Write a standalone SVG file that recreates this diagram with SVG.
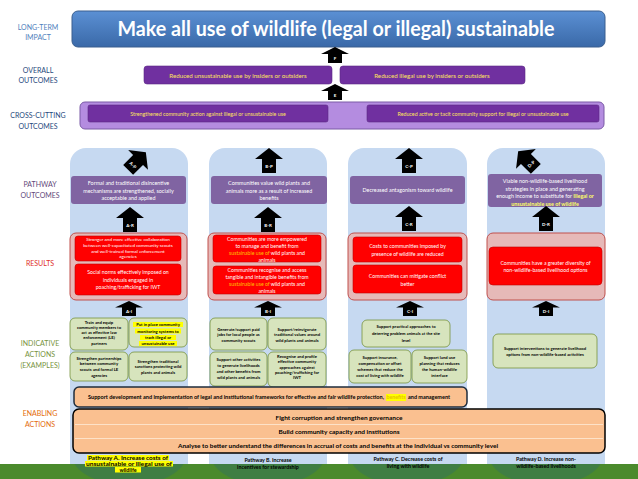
<svg xmlns="http://www.w3.org/2000/svg" width="638" height="479" viewBox="0 0 638 479">
<defs>
<linearGradient id="gTitle" x1="0" y1="0" x2="0" y2="1">
<stop offset="0" stop-color="#5b90d4"/><stop offset="1" stop-color="#3a69a8"/>
</linearGradient>
<path id="arr" d="M0,0 L14,11 L7,11 L7,25 L-7,25 L-7,11 L-14,11 Z"/>
<clipPath id="band"><rect x="0" y="464" width="638" height="15"/></clipPath>
</defs>
<style>
text{font-family:Lato,"Open Sans","Liberation Sans",sans-serif}
.lbl{font-size:7px;text-anchor:middle}
.col{fill:#c6d9f1}
.po{fill:#8064a2}
.pot{fill:#fff;font-size:5.4px;text-anchor:middle}
.rc{fill:#e6b9b8;stroke:#c0504d;stroke-width:1}
.rb{fill:#ff0000;stroke:#c00000;stroke-width:.6}
.rt{fill:#fff;font-size:5.2px;text-anchor:middle}
.rs{fill:#fff;font-size:4.6px;text-anchor:middle}
.ga{fill:#d7e4bd;stroke:#76923c;stroke-width:.8}
.gt{fill:#000;font-size:4.2px;font-weight:700;text-anchor:middle}
.ar{fill:#000}
.at{fill:#fff;font-size:4.5px;font-weight:700;text-anchor:middle}
.pu{fill:#7030a0;stroke:#5c2a85;stroke-width:.6}
.yt{fill:#ffe45c;text-anchor:middle}
.en{fill:#fac090}
.et{fill:#000;font-size:5.3px;font-weight:700;text-anchor:middle}
.pw{fill:#000;font-size:5.3px;font-weight:700;text-anchor:middle}
.or{fill:#ffc000}
.yl{fill:#ffff66;font-weight:700}
.hl{fill:#ffff00}
</style>
<rect width="638" height="479" fill="#fff"/>

<g id="row-labels">
<text class="lbl" x="38" y="30" fill="#4f81bd"><tspan x="38">LONG-TERM</tspan><tspan x="38" dy="10">IMPACT</tspan></text>
<text class="lbl" x="38" y="73" fill="#1f497d"><tspan x="38">OVERALL</tspan><tspan x="38" dy="10">OUTCOMES</tspan></text>
<text class="lbl" x="38" y="118" fill="#1f497d"><tspan x="38">CROSS-CUTTING</tspan><tspan x="38" dy="11">OUTCOMES</tspan></text>
<text class="lbl" x="40" y="187" fill="#5f497a"><tspan x="40">PATHWAY</tspan><tspan x="40" dy="11">OUTCOMES</tspan></text>
<text class="lbl" x="40" y="266" fill="#e0302a">RESULTS</text>
<text class="lbl" x="40" y="346" fill="#77933c"><tspan x="40">INDICATIVE</tspan><tspan x="40" dy="11">ACTIONS</tspan><tspan x="40" dy="11">(EXAMPLES)</tspan></text>
<text class="lbl" x="40" y="416" fill="#e46c0a"><tspan x="40">ENABLING</tspan><tspan x="40" dy="11">ACTIONS</tspan></text>
</g>

<g id="columns">
<rect class="col" x="70" y="148" width="118" height="331" rx="16"/>
<rect class="col" x="209" y="148" width="118" height="331" rx="16"/>
<rect class="col" x="348" y="148" width="119" height="331" rx="16"/>
<rect class="col" x="487" y="148" width="118" height="331" rx="16"/>
</g>

<g id="green-band">
<rect x="0" y="464" width="638" height="15" fill="#4b8a2c"/>
<g clip-path="url(#band)" fill="#2a6870" opacity="0.35">
<ellipse cx="129" cy="455" rx="57" ry="30"/>
<ellipse cx="268" cy="455" rx="57" ry="30"/>
<ellipse cx="407" cy="455" rx="57" ry="30"/>
<ellipse cx="546" cy="455" rx="57" ry="30"/>
</g>
</g>

<g id="impact">
<rect x="72" y="11" width="533" height="36" rx="6" fill="url(#gTitle)" stroke="#3a5f8f" stroke-width="1"/>
<text x="336" y="36" fill="#fff" font-size="21" font-weight="700" text-anchor="middle" textLength="437" lengthAdjust="spacingAndGlyphs">Make all use of wildlife (legal or illegal) sustainable</text>
</g>

<g id="overall-unsustainable">
<rect class="pu" x="144" y="66" width="188" height="18" rx="3"/>
<text class="yt" x="238" y="77.5" font-size="6.2">Reduced unsustainable use by insiders or outsiders</text>
</g>
<g id="overall-illegal">
<rect class="pu" x="340" y="66" width="185" height="18" rx="3"/>
<text class="yt" x="432" y="77.5" font-size="6.2">Reduced illegal use by insiders or outsiders</text>
</g>

<g id="cross-cutting">
<rect x="80" y="102" width="524" height="27" rx="5" fill="#b48ce0" stroke="#7b5aa6" stroke-width="1"/>
<g id="cc-action">
<rect class="pu" x="88" y="105" width="240" height="17" rx="2"/>
<text class="yt" x="208" y="115.5" font-size="5.3">Strengthened community action against illegal or unsustainable use</text>
</g>
<g id="cc-support">
<rect class="pu" x="367" y="105" width="232" height="17" rx="2"/>
<text class="yt" x="483" y="115.5" font-size="5.3">Reduced active or tacit community support for illegal or unsustainable use</text>
</g>
</g>

<g id="outcome-A">
<rect class="po" x="71" y="176" width="115" height="28" rx="3"/>
<text class="pot"><tspan x="128.5" y="185">Formal and traditional disincentive</tspan><tspan x="128.5" y="192.5">mechanisms are strengthened, socially</tspan><tspan x="128.5" y="200">acceptable and applied</tspan></text>
</g>
<g id="outcome-B">
<rect class="po" x="211" y="176" width="116" height="28" rx="3"/>
<text class="pot"><tspan x="269" y="185">Communities value wild plants and</tspan><tspan x="269" y="192.5">animals more as a result of increased</tspan><tspan x="269" y="200">benefits</tspan></text>
</g>
<g id="outcome-C">
<rect class="po" x="350" y="176" width="115" height="28" rx="3"/>
<text class="pot" x="407.5" y="191.5">Decreased antagonism toward wildlife</text>
</g>
<g id="outcome-D">
<rect class="po" x="488" y="174" width="114" height="33" rx="3"/>
<text class="pot" font-size="5.2"><tspan x="545" y="183">Viable non-wildlife-based livelihood</tspan><tspan x="545" y="190.5">strategies in place and generating</tspan><tspan x="545" y="198">enough income to substitute for <tspan class="yl">Illegal or</tspan></tspan><tspan x="545" y="205.5" class="yl">unsustainable use of wildlife</tspan></text>
</g>

<g id="results-A">
<rect class="rc" x="70" y="233" width="117" height="67" rx="6"/>
<rect class="rb" x="75" y="236" width="106" height="25" rx="3"/>
<text class="rs"><tspan x="128" y="241">Stronger and more effective collaboration</tspan><tspan x="128" y="246.8">between well-capacitated community scouts</tspan><tspan x="128" y="252.6">and well-trained formal enforcement</tspan><tspan x="128" y="258.4">agencies</tspan></text>
<rect class="rb" x="75" y="264" width="106" height="31" rx="3"/>
<text class="rt" font-size="5.6"><tspan x="128" y="274">Social norms effectively imposed on</tspan><tspan x="128" y="281.5">individuals engaged in</tspan><tspan x="128" y="289">poaching/trafficking for IWT</tspan></text>
</g>
<g id="results-B">
<rect class="rc" x="208" y="233" width="118" height="67" rx="6"/>
<rect class="rb" x="213" y="235" width="108" height="27" rx="3"/>
<text class="rt"><tspan x="267" y="241">Communities are more empowered</tspan><tspan x="267" y="248">to manage and benefit from</tspan><tspan x="267" y="255"><tspan class="or">sustainable use of</tspan> wild plants and</tspan><tspan x="267" y="262">animals</tspan></text>
<rect class="rb" x="213" y="266" width="108" height="28" rx="3"/>
<text class="rt"><tspan x="267" y="272">Communities recognise and access</tspan><tspan x="267" y="279">tangible and intangible benefits from</tspan><tspan x="267" y="286"><tspan class="or">sustainable use of</tspan> wild plants and</tspan><tspan x="267" y="293">animals</tspan></text>
</g>
<g id="results-C">
<rect class="rc" x="348" y="233" width="119" height="67" rx="6"/>
<rect class="rb" x="353" y="237" width="109" height="25" rx="3"/>
<text class="rt"><tspan x="407.5" y="248">Costs to communities imposed by</tspan><tspan x="407.5" y="256">presence of wildlife are reduced</tspan></text>
<rect class="rb" x="353" y="265" width="109" height="28" rx="3"/>
<text class="rt"><tspan x="407.5" y="278">Communities can mitigate conflict</tspan><tspan x="407.5" y="285.5">better</tspan></text>
</g>
<g id="results-D">
<rect class="rc" x="487" y="233" width="118" height="67" rx="6"/>
<rect class="rb" x="489" y="247" width="113" height="38" rx="4"/>
<text class="rt"><tspan x="545.5" y="265">Communities have a greater diversity of</tspan><tspan x="545.5" y="272">non-wildlife-based livelihood options</tspan></text>
</g>

<g id="actions-A">
<g id="act-A1"><rect class="ga" x="70" y="318" width="58" height="32" rx="5"/>
<text class="gt"><tspan x="99" y="323.5">Train and equip</tspan><tspan x="99" y="328.8">community members to</tspan><tspan x="99" y="334">act as effective law</tspan><tspan x="99" y="339.2">enforcement (LE)</tspan><tspan x="99" y="344.5">partners</tspan></text></g>
<g id="act-A2"><rect class="ga" x="129" y="318" width="58" height="29" rx="5"/>
<rect class="hl" x="133" y="322" width="50" height="5"/><rect class="hl" x="135" y="328.5" width="46" height="5"/><rect class="hl" x="140" y="335" width="36" height="5"/><rect class="hl" x="139" y="341" width="38" height="5"/>
<text class="gt"><tspan x="158" y="326">Put in place community</tspan><tspan x="158" y="332.5">monitoring systems to</tspan><tspan x="158" y="339">track illegal or</tspan><tspan x="158" y="345">unsustainable use</tspan></text></g>
<g id="act-A3"><rect class="ga" x="70" y="352" width="58" height="29" rx="5"/>
<text class="gt"><tspan x="99" y="359.5">Strengthen partnerships</tspan><tspan x="99" y="365.3">between community</tspan><tspan x="99" y="371">scouts and formal LE</tspan><tspan x="99" y="376.7">agencies</tspan></text></g>
<g id="act-A4"><rect class="ga" x="129" y="352" width="58" height="29" rx="5"/>
<text class="gt"><tspan x="158" y="362.5">Strengthen traditional</tspan><tspan x="158" y="368.3">sanctions protecting wild</tspan><tspan x="158" y="374">plants and animals</tspan></text></g>
</g>

<g id="actions-B">
<g id="act-B1"><rect class="ga" x="210" y="318" width="57" height="32" rx="5"/>
<text class="gt"><tspan x="238.5" y="330.5">Generate/support paid</tspan><tspan x="238.5" y="336">jobs for local people as</tspan><tspan x="238.5" y="341.5">community scouts</tspan></text></g>
<g id="act-B2"><rect class="ga" x="268" y="318" width="58" height="32" rx="5"/>
<text class="gt"><tspan x="297" y="330.5">Support/reinvigorate</tspan><tspan x="297" y="336">traditional values around</tspan><tspan x="297" y="341.5">wild plants and animals</tspan></text></g>
<g id="act-B3"><rect class="ga" x="210" y="352" width="57" height="34" rx="5"/>
<text class="gt"><tspan x="238.5" y="360.5">Support other activities</tspan><tspan x="238.5" y="366.5">to generate livelihoods</tspan><tspan x="238.5" y="372.5">and other benefits from</tspan><tspan x="238.5" y="378.5">wild plants and animals</tspan></text></g>
<g id="act-B4"><rect class="ga" x="268" y="352" width="58" height="35" rx="5"/>
<text class="gt"><tspan x="297" y="358">Recognise and profile</tspan><tspan x="297" y="363.3">effective community</tspan><tspan x="297" y="368.6">approaches against</tspan><tspan x="297" y="373.9">poaching/trafficking for</tspan><tspan x="297" y="379.2">IWT</tspan></text></g>
</g>

<g id="actions-C">
<g id="act-C1"><rect class="ga" x="362" y="320" width="88" height="27" rx="5"/>
<text class="gt"><tspan x="406" y="327.5">Support practical approaches to</tspan><tspan x="406" y="334.5">deterring problem animals at the site</tspan><tspan x="406" y="341.5">level</tspan></text></g>
<g id="act-C2"><rect class="ga" x="349" y="350" width="62" height="33" rx="5"/>
<text class="gt" font-size="4"><tspan x="380" y="358.5">Support insurance,</tspan><tspan x="380" y="364.5">compensation or offset</tspan><tspan x="380" y="370.5">schemes that reduce the</tspan><tspan x="380" y="376.5">cost of living with wildlife</tspan></text></g>
<g id="act-C3"><rect class="ga" x="412" y="350" width="55" height="33" rx="5"/>
<text class="gt"><tspan x="439.5" y="358.5">Support land use</tspan><tspan x="439.5" y="364.5">planning that reduces</tspan><tspan x="439.5" y="370.5">the human-wildlife</tspan><tspan x="439.5" y="376.5">interface</tspan></text></g>
</g>

<g id="actions-D">
<rect class="ga" x="493" y="334" width="104" height="34" rx="5"/>
<text class="gt"><tspan x="545" y="349.5">Support interventions to generate livelihood</tspan><tspan x="545" y="355.5">options from non-wildlife-based activities</tspan></text>
</g>

<g id="connectors">
<g id="arrow-F"><use href="#arr" class="ar" transform="translate(335,47) scale(1,0.64)"/><text class="at" x="335" y="60">F</text></g>
<g id="arrow-E"><use href="#arr" class="ar" transform="translate(335,84) scale(1,0.64)"/><text class="at" x="335" y="97">E</text></g>
<g id="arrow-AP" transform="translate(137,161) rotate(45) translate(0,-12.5)"><use href="#arr" class="ar"/><text class="at" x="0" y="20">A-P</text></g>
<g id="arrow-BP" transform="translate(269,148)"><use href="#arr" class="ar"/><text class="at" x="0" y="20">B-P</text></g>
<g id="arrow-CP" transform="translate(409,148)"><use href="#arr" class="ar"/><text class="at" x="0" y="20">C-P</text></g>
<g id="arrow-DP" transform="translate(527,160) rotate(-45) translate(0,-12.5)"><use href="#arr" class="ar"/><text class="at" x="0" y="20">D-P</text></g>
<g id="arrow-AR" transform="translate(130,207)"><use href="#arr" class="ar"/><text class="at" x="0" y="20">A-R</text></g>
<g id="arrow-BR" transform="translate(268,207)"><use href="#arr" class="ar"/><text class="at" x="0" y="20">B-R</text></g>
<g id="arrow-CR" transform="translate(409,206)"><use href="#arr" class="ar"/><text class="at" x="0" y="20">C-R</text></g>
<g id="arrow-DR" transform="translate(546,206)"><use href="#arr" class="ar"/><text class="at" x="0" y="20">D-R</text></g>
<g id="arrow-AI"><use href="#arr" class="ar" transform="translate(129,301) scale(1,0.6)"/><text class="at" x="129" y="313">A-I</text></g>
<g id="arrow-BI"><use href="#arr" class="ar" transform="translate(268,301) scale(1,0.6)"/><text class="at" x="268" y="313">B-I</text></g>
<g id="arrow-CI"><use href="#arr" class="ar" transform="translate(410,301) scale(1,0.6)"/><text class="at" x="410" y="313">C-I</text></g>
<g id="arrow-DI"><use href="#arr" class="ar" transform="translate(546,301) scale(1,0.6)"/><text class="at" x="546" y="313">D-I</text></g>
</g>

<g id="enabling-frameworks">
<rect class="en" x="74" y="387" width="393" height="20" rx="5" stroke="#1f2d3d" stroke-width="1.5"/>
<text class="et" x="88" y="399" font-size="5" text-anchor="start" style="text-anchor:start" textLength="296" lengthAdjust="spacingAndGlyphs">Support development and implementation of legal and institutional frameworks for effective and fair wildlife protection,</text>
<rect class="hl" x="386" y="394" width="20" height="7"/>
<text class="et" x="396" y="399" font-size="5" fill="#e0c000" style="fill:#e6c200">benefits</text>
<text class="et" x="408" y="399" font-size="5" style="text-anchor:start" textLength="42" lengthAdjust="spacingAndGlyphs">and management</text>
</g>

<g id="enabling-main">
<rect class="en" x="73" y="409" width="532" height="44" rx="6" stroke="#000" stroke-width="1.5"/>
<line x1="75" y1="424.5" x2="603" y2="424.5" stroke="#fde2c8" stroke-width="1.2"/>
<line x1="75" y1="438.5" x2="603" y2="438.5" stroke="#fde2c8" stroke-width="1.2"/>
<text class="et" x="339" y="420" textLength="127" lengthAdjust="spacingAndGlyphs">Fight corruption and strengthen governance</text>
<text class="et" x="339" y="434" textLength="121" lengthAdjust="spacingAndGlyphs">Build community capacity and institutions</text>
<text class="et" x="338" y="447.5" textLength="320" lengthAdjust="spacingAndGlyphs">Analyse to better understand the differences in accrual of costs and benefits at the individual vs community level</text>
</g>

<g id="pathway-A-label">
<rect class="hl" x="87" y="455" width="82" height="5.5"/><rect class="hl" x="85" y="461" width="88" height="5.5"/><rect class="hl" x="115" y="467" width="26" height="5.5"/>
<text class="pw"><tspan x="128" y="459.5" textLength="80" lengthAdjust="spacingAndGlyphs">Pathway A. Increase costs of</tspan><tspan x="129" y="465.5" textLength="86" lengthAdjust="spacingAndGlyphs">unsustainable or illegal use of</tspan><tspan x="128" y="471.5">wildlife</tspan></text>
</g>
<g id="pathway-B-label">
<text class="pw"><tspan x="268" y="461.5">Pathway B. Increase</tspan><tspan x="268" y="468.5">incentives for stewardship</tspan></text>
</g>
<g id="pathway-C-label">
<text class="pw"><tspan x="408" y="461">Pathway C. Decrease costs of</tspan><tspan x="408" y="468">living with wildlife</tspan></text>
</g>
<g id="pathway-D-label">
<text class="pw"><tspan x="546" y="461">Pathway D. Increase non-</tspan><tspan x="546" y="468">wildlife-based livelihoods</tspan></text>
</g>
</svg>
